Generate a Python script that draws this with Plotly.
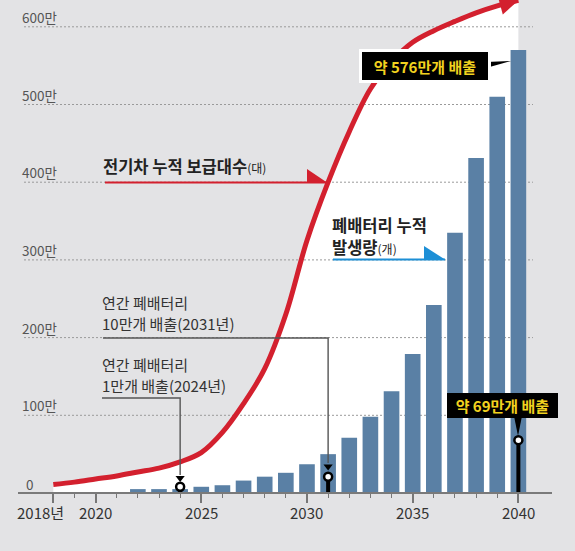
import plotly.graph_objects as go

# ---------------- data ----------------
ev_years = list(range(2018, 2041))
ev_cum = [11, 14, 18, 22, 27, 32, 40, 52, 78, 115, 160, 230, 325, 400,
          465, 520, 555, 580, 595, 607, 618, 627, 634]          # 만 대
bar_years = list(range(2022, 2041))
battery_cum = [5, 5, 5, 8, 10, 16, 21, 26, 37, 50, 71, 98, 131, 179,
               242, 335, 431, 510, 570]                          # 만 개
annual_years = [2024, 2031, 2040]
annual_marker = [8, 21, 68]                                      # marker heights
grid_values = [100, 200, 300, 400, 500, 600]
tick_years = [2018, 2020, 2025, 2030, 2035, 2040]
tick_labels = ["2018년", "2020", "2025", "2030", "2035", "2040"]
minor_years = list(range(2018, 2041))

# ---------------- geometry helpers ----------------
W, H = 575, 551
AX_L, AX_R = 18, 552          # x-axis domain in px
PX_2018, PX_YEAR = 53.3, 21.14
BASE_PX, PX_UNIT = 493, 0.777

XR = [2018 - (PX_2018 - AX_L) / PX_YEAR, 2018 + (AX_R - PX_2018) / PX_YEAR]
YR = [-(H - BASE_PX) / PX_UNIT, BASE_PX / PX_UNIT]


def px2x(px):
    return 2018 + (px - PX_2018) / PX_YEAR


def py2y(py):
    return (BASE_PX - py) / PX_UNIT


def yr2px(yr):
    return PX_2018 + (yr - 2018) * PX_YEAR


def path(points):
    return "M" + " L".join(f"{px2x(a):.4f},{py2y(b):.4f}" for a, b in points)


FONT = "Noto Sans CJK KR, Noto Sans, sans-serif"
BG = "#e3e3e5"
RED = "#d3202e"
BLUE = "#1d8fd6"
BAR = "#5a80a5"

fig = go.Figure()

# white area under the EV curve (main subplot)
fig.add_trace(go.Scatter(x=ev_years, y=ev_cum, mode="lines",
                         line=dict(width=0, shape="spline", color="white"),
                         fill="tozeroy", fillcolor="white", hoverinfo="skip"))
# dotted gridlines (above white area, below bars)
for v in grid_values:
    fig.add_trace(go.Scatter(x=[px2x(24), px2x(533)], y=[v, v], mode="lines",
                             line=dict(color="#9a9a9a", width=1, dash="2px,2px"),
                             hoverinfo="skip"))

# bars (overlay subplot so they sit above white area)
fig.add_trace(go.Bar(x=bar_years, y=battery_cum, width=0.74,
                     marker=dict(color=BAR, line=dict(width=0)),
                     xaxis="x2", yaxis="y2", hoverinfo="skip"))

# annual stems
sx, sy = [], []
for yr, v in zip(annual_years, annual_marker):
    sx += [yr, yr, None]
    sy += [0, v, None]
fig.add_trace(go.Scatter(x=sx, y=sy, mode="lines",
                         line=dict(color="black", width=4),
                         xaxis="x2", yaxis="y2", hoverinfo="skip"))

# EV curve
fig.add_trace(go.Scatter(x=ev_years, y=ev_cum, mode="lines",
                         line=dict(color=RED, width=5, shape="spline"),
                         xaxis="x2", yaxis="y2", hoverinfo="skip"))

# arrow tips (triangles) on connectors
fig.add_trace(go.Scatter(x=[annual_years[0], annual_years[1]],
                         y=[py2y(478), py2y(466.5)], mode="markers",
                         marker=dict(symbol="triangle-down", size=8, color="black"),
                         xaxis="x2", yaxis="y2", hoverinfo="skip"))

# circles
fig.add_trace(go.Scatter(x=annual_years, y=annual_marker, mode="markers",
                         marker=dict(symbol="circle", size=8, color="white",
                                     line=dict(color="black", width=2.5)),
                         xaxis="x2", yaxis="y2", hoverinfo="skip"))

shapes = []
# connectors
shapes.append(dict(type="path",
                   path=path([(103, 338), (yr2px(2031), 338), (yr2px(2031), 463)]),
                   xref="x", yref="y", line=dict(color="#555", width=1.4), layer="above"))
shapes.append(dict(type="path",
                   path=path([(102, 398), (yr2px(2024), 398), (yr2px(2024), 475)]),
                   xref="x", yref="y", line=dict(color="#555", width=1.4), layer="above"))
# red legend flag
shapes.append(dict(type="path", path=path([(105, 182.5), (327, 182.5)]),
                   xref="x", yref="y", line=dict(color=RED, width=2), layer="above"))
shapes.append(dict(type="path", path=path([(307, 169), (307, 182.5), (327, 182.5)]) + " Z",
                   xref="x", yref="y", line=dict(width=0), fillcolor=RED, layer="above"))
# blue legend flag
shapes.append(dict(type="path", path=path([(333, 259.5), (445, 259.5)]),
                   xref="x", yref="y", line=dict(color=BLUE, width=2), layer="above"))
shapes.append(dict(type="path", path=path([(424, 246), (424, 259.5), (445, 259.5)]) + " Z",
                   xref="x", yref="y", line=dict(width=0), fillcolor=BLUE, layer="above"))
# box pointers
shapes.append(dict(type="path", path=path([(486, 62), (486, 68), (511, 61)]) + " Z",
                   xref="x", yref="y", line=dict(width=0), fillcolor="black", layer="above"))
shapes.append(dict(type="path", path=path([(514, 416), (522, 416), (518, 436)]) + " Z",
                   xref="x", yref="y", line=dict(width=0), fillcolor="black", layer="above"))

ann = []


def text_at(px, py, text, size, color, weight=400, anchor="left"):
    ann.append(dict(x=px2x(px), y=py2y(py), xref="x", yref="y", text=text,
                    showarrow=False, xanchor=anchor, yanchor="middle",
                    font=dict(family=FONT, size=size, color=color, weight=weight)))


# y labels
for v in grid_values:
    ann.append(dict(x=px2x(20), y=v, xref="x", yref="y", text=f"{v}만",
                    showarrow=False, xanchor="left", yanchor="middle", yshift=10,
                    font=dict(family=FONT, size=13.5, color="#555")))
ann.append(dict(x=px2x(24), y=0, xref="x", yref="y", text="0", showarrow=False,
                xanchor="left", yanchor="middle", yshift=9,
                font=dict(family=FONT, size=13.5, color="#555")))
# x tick labels
for yr, lab in zip(tick_years, tick_labels):
    ann.append(dict(x=yr, y=py2y(512), xref="x", yref="y", text=lab, showarrow=False,
                    xanchor="center", yanchor="middle",
                    xshift=-13 if lab.endswith("년") else 0,
                    font=dict(family=FONT, size=15, color="#333")))
# source
text_at(556, 534, "자료:한국자동차자원순환협회", 15, "#444", anchor="right")
# series labels
small = "<span style='font-size:12px;font-weight:normal'>"
text_at(101, 166, "전기차 누적 보급대수" + small + "(대)</span>", 16.5, "#222", 700)
text_at(330, 225, "폐배터리 누적", 16.5, "#222", 700)
text_at(330, 247, "발생량" + small + "(개)</span>", 16.5, "#222", 700)
text_at(100, 302, "연간 폐배터리", 15, "#333")
text_at(100, 323, "10만개 배출(2031년)", 15, "#333")
text_at(100, 364, "연간 폐배터리", 15, "#333")
text_at(100, 385, "1만개 배출(2024년)", 15, "#333")

# callout boxes
ann.append(dict(x=px2x(425), y=py2y(66), xref="x", yref="y",
                text="<b>약 576만개 배출</b>", showarrow=False,
                xanchor="center", yanchor="middle", width=126, height=28,
                bgcolor="black", bordercolor="white", borderwidth=3, borderpad=0,
                font=dict(family=FONT, size=15, color="#f2d21f")))
ann.append(dict(x=px2x(502.5), y=py2y(405.5), xref="x", yref="y",
                text="<b>약 69만개 배출</b>", showarrow=False,
                xanchor="center", yanchor="middle", width=111, height=25,
                bgcolor="black", borderwidth=0, borderpad=0,
                font=dict(family=FONT, size=15, color="#f2d21f")))
# arrow head of EV curve
ann.append(dict(x=ev_years[-1], y=ev_cum[-1], ax=ev_years[-2] + 0.4, ay=ev_cum[-2] + 2.5,
                xref="x2", yref="y2", axref="x2", ayref="y2", text="",
                showarrow=True, arrowhead=2, arrowsize=0.75, arrowwidth=5,
                arrowcolor=RED, standoff=0))

axis_common = dict(range=XR, domain=[AX_L / W, AX_R / W])
fig.update_layout(
    width=W, height=H, margin=dict(l=0, r=0, t=0, b=0),
    paper_bgcolor=BG, plot_bgcolor=BG, showlegend=False,
    xaxis=dict(**axis_common, anchor="free", position=(H - BASE_PX) / H,
               showline=True, linecolor="#7a7a7a", linewidth=1.5,
               ticks="outside", tickvals=tick_years, ticklen=9, tickwidth=1.5,
               tickcolor="#777", showticklabels=False, showgrid=False, zeroline=False,
               minor=dict(tickvals=minor_years, ticks="outside", ticklen=4,
                          tickwidth=1.2, tickcolor="#777", showgrid=False)),
    yaxis=dict(range=YR, domain=[0, 1], visible=False),
    xaxis2=dict(range=XR, overlaying="x", anchor="y2", visible=False),
    yaxis2=dict(range=YR, overlaying="y", anchor="x2", visible=False),
    shapes=shapes, annotations=ann,
)

fig.write_html("out.html")
